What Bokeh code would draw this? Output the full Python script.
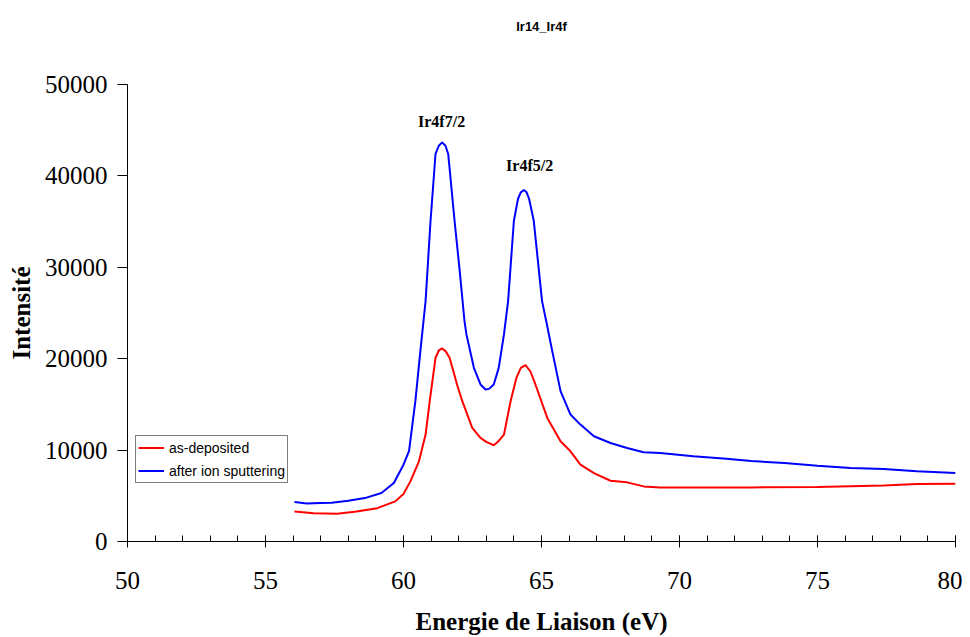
from bokeh.plotting import figure
from bokeh.models import Range1d, FixedTicker, Legend, LegendItem, Title
from bokeh.core.properties import value
from bokeh.embed import file_html
from bokeh.resources import INLINE

title_text = "Ir14_Ir4f"
x_label = "Energie de Liaison (eV)"
y_label = "Intensité"

# after ion sputtering (blue)
blue_x = [56.05, 56.5, 57.0, 57.4, 58.0, 58.6, 59.2, 59.65, 60.0, 60.2, 60.43, 60.6, 60.8,
          60.98, 61.16, 61.28, 61.4, 61.52, 61.62, 61.85, 62.03, 62.21, 62.28, 62.55, 62.79,
          62.97, 63.1, 63.27, 63.45, 63.64, 63.79, 64.0, 64.15, 64.25, 64.36, 64.46, 64.55,
          64.72, 65.02, 65.17, 65.39, 65.69, 66.05, 66.41, 66.9, 67.5, 68.1, 68.7, 69.3, 70.5,
          71.7, 72.6, 73.8, 75.0, 76.2, 77.4, 78.6, 80.0]
blue_y = [4310, 4170, 4220, 4250, 4460, 4750, 5300, 6400, 8400, 9900, 15350, 20500, 26300,
          35090, 42400, 43300, 43670, 43300, 42400, 35090, 29800, 24120, 22660, 19000, 17180,
          16630, 16700, 17180, 19000, 22660, 26300, 35090, 37500, 38200, 38450, 38200, 37500,
          35090, 26300, 24120, 20830, 16450, 13890, 12790, 11510, 10780, 10230, 9760, 9680, 9320,
          9060, 8800, 8590, 8300, 8040, 7930, 7680, 7490]

# as-deposited (red)
red_x = [56.05, 56.75, 57.6, 58.3, 59.05, 59.7, 60.0, 60.25, 60.56, 60.8, 60.95, 61.16, 61.28,
         61.4, 61.53, 61.67, 61.94, 62.13, 62.49, 62.79, 63.0, 63.27, 63.45, 63.64, 63.88, 64.09,
         64.25, 64.42, 64.6, 64.78, 65.21, 65.69, 66.05, 66.41, 66.9, 67.5, 68.1, 68.7, 69.3,
         70.5, 71.7, 72.6, 75.0, 77.4, 78.6, 80.0]
red_y = [3290, 3100, 3030, 3290, 3650, 4390, 5200, 6580, 8770, 11700, 15350, 20100, 20900,
         21120, 20800, 20100, 17180, 15350, 12430, 11330, 10900, 10530, 11000, 11700, 15350, 17900,
         19000, 19300, 18600, 17180, 13520, 10960, 9870, 8410, 7490, 6650, 6470, 6030, 5920,
         5920, 5920, 5920, 5960, 6140, 6290, 6320]

series_names = ["as-deposited", "after ion sputtering"]
peak_labels = ["Ir4f7/2", "Ir4f5/2"]
peak_x = [61.38, 64.57]
peak_y = [46000, 41180]

x_ticks = [50, 55, 60, 65, 70, 75, 80]
x_minor = list(range(50, 81))
y_ticks = [0, 10000, 20000, 30000, 40000, 50000]

p = figure(width=962, height=637, output_backend="svg", toolbar_location=None,
           x_range=Range1d(50, 80), y_range=Range1d(0, 50000),
           min_border_left=127, min_border_right=7, min_border_top=84, min_border_bottom=93)
p.outline_line_color = None
p.xgrid.grid_line_color = None
p.ygrid.grid_line_color = None
p.background_fill_color = "white"

# blank spacer panel between the frame and the title
spacer = Title(text=" ", text_font_size="13px", standoff=33)
p.add_layout(spacer, "above")

p.title = Title(text=title_text, align="center", vertical_align="middle",
                text_font="'Liberation Sans', Arial, sans-serif",
                text_font_size="13px", text_font_style="bold", text_color="black", standoff=0)

serif = "'Liberation Serif', 'Times New Roman', serif"

p.xaxis.ticker = FixedTicker(ticks=x_ticks, minor_ticks=x_minor)
p.yaxis.ticker = FixedTicker(ticks=y_ticks, minor_ticks=[])
for ax in (p.xaxis[0], p.yaxis[0]):
    ax.axis_line_color = "black"
    ax.major_tick_line_color = "black"
    ax.minor_tick_line_color = "black"
    ax.major_label_text_font = serif
    ax.major_label_text_font_size = "25px"
    ax.major_label_text_color = "black"
    ax.axis_label_text_font = serif
    ax.axis_label_text_font_size = "25px"
    ax.axis_label_text_font_style = "bold"
    ax.axis_label_text_color = "black"

p.xaxis.axis_label = x_label
p.xaxis.major_tick_in = 6
p.xaxis.major_tick_out = 6
p.xaxis.minor_tick_in = 6
p.xaxis.minor_tick_out = 0
p.xaxis.major_label_standoff = 24
p.xaxis.axis_label_standoff = 16

p.yaxis.axis_label = y_label
p.yaxis.major_tick_in = 0
p.yaxis.major_tick_out = 10
p.yaxis.minor_tick_in = 0
p.yaxis.minor_tick_out = 0
p.yaxis.major_label_standoff = 10
p.yaxis.axis_label_standoff = 7
p.yaxis.formatter.use_scientific = False

r_red = p.line(red_x, red_y, line_color="#ff0000", line_width=2)
r_blue = p.line(blue_x, blue_y, line_color="#0000ff", line_width=2)

p.text(x=peak_x, y=peak_y, text=peak_labels, text_font=value(serif), text_font_style="bold",
       text_font_size="16px", text_align="center", text_baseline="middle", text_color="black")

legend = Legend(items=[LegendItem(label=series_names[0], renderers=[r_red]),
                       LegendItem(label=series_names[1], renderers=[r_blue])],
                location=(8, 58), orientation="vertical")
legend.border_line_color = "black"
legend.border_line_width = 1
legend.background_fill_color = "white"
legend.background_fill_alpha = 1
legend.label_text_font = "'Liberation Sans', Arial, sans-serif"
legend.label_text_font_size = "14px"
legend.label_text_color = "black"
legend.glyph_width = 26
legend.glyph_height = 19
legend.label_height = 19
legend.spacing = 4
legend.padding = 2
legend.margin = 0
legend.label_standoff = 5
p.add_layout(legend)

open("out.html", "w").write(file_html(p, INLINE))
